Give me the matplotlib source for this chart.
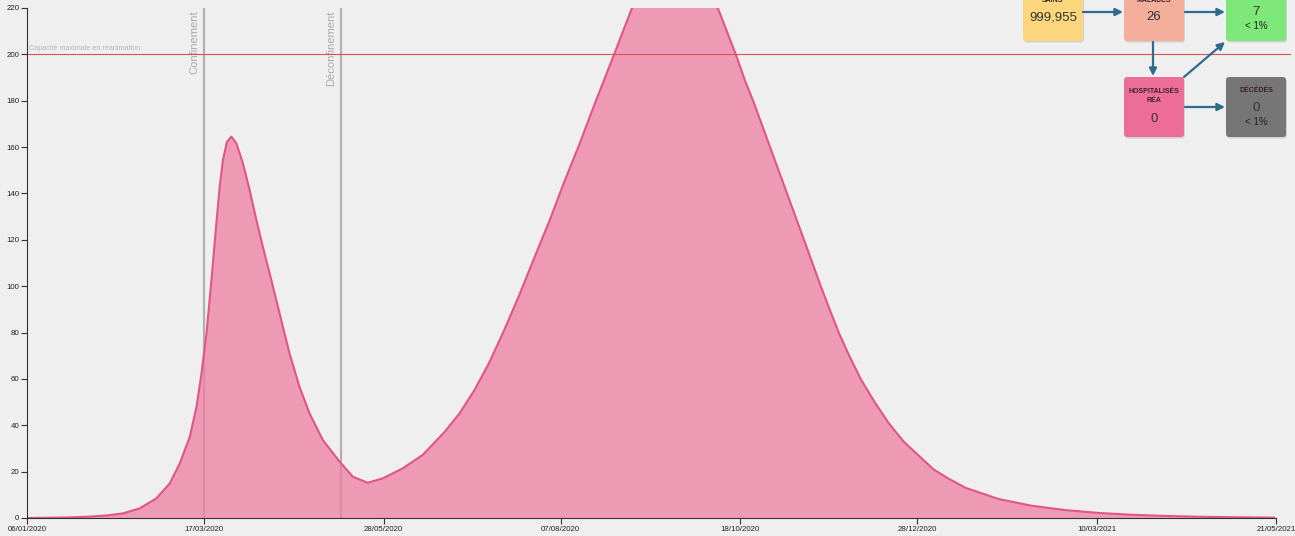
"""Courbe des hospitalisations en réanimation, avec le schéma des compartiments."""
import numpy as np
import matplotlib
matplotlib.use("Agg")
import matplotlib.pyplot as plt
from matplotlib.patches import FancyBboxPatch

plt.rcParams["font.family"] = ["Liberation Sans", "DejaVu Sans"]

################## DATA ##################
start = np.datetime64("2020-01-06")
end = np.datetime64("2021-05-21")

# jours depuis le 06/01/2020 -> patients en réanimation
days = [0.0, 9.2, 17.2, 25.2, 32.0, 38.6, 45.3, 51.9, 57.3, 61.3,
        65.3, 68.0, 70.0, 72.0, 74.0, 75.7, 77.3, 78.6, 80.2, 82.0,
        84.0, 86.6, 89.3, 92.0, 94.6, 98.0, 101.3, 105.3, 109.3, 113.3,
        118.7, 125.4, 130.7, 136.7, 142.7, 150.7, 158.7, 167.4, 173.4, 179.4,
        185.4, 191.4, 197.4, 203.4, 209.5, 215.5, 221.5, 227.5, 231.5, 235.5,
        242.7, 247.5, 253.5, 259.9, 265.5, 271.5, 277.1, 284.3, 287.9, 291.6,
        298.4, 305.2, 312.0, 318.4, 321.6, 325.6, 329.6, 334.4, 340.0, 345.6,
        351.6, 357.6, 363.6, 369.6, 376.5, 389.7, 402.9, 416.5, 429.7, 442.9,
        456.5, 469.8, 485.8, 500.2]
rea = [0, 0.1, 0.25, 0.6, 1.1, 2.0, 4.2, 8.5, 15, 23.6,
       35, 48, 62.4, 79.7, 102.7, 124, 143, 154.4, 162.3, 164.5,
       161.6, 153, 141.5, 128.6, 117, 102.7, 88.3, 71, 56.6, 45.2,
       33.6, 24.3, 17.8, 15.2, 17.1, 21.4, 27.2, 37, 45, 55,
       67, 81, 96, 112, 128, 145, 161, 178, 189, 200,
       220, 232, 243, 248, 244, 234, 220, 200, 189, 179,
       159, 139, 119, 100, 91, 80, 70.5, 60, 50, 41,
       33, 27, 21, 17, 13, 8.2, 5.3, 3.4, 2.2, 1.4,
       0.9, 0.55, 0.3, 0.15]

tick_dates = ["2020-01-06", "2020-03-17", "2020-05-28", "2020-08-07",
              "2020-10-18", "2020-12-28", "2021-03-10", "2021-05-21"]
tick_labels = ["06/01/2020", "17/03/2020", "28/05/2020", "07/08/2020",
               "18/10/2020", "28/12/2020", "10/03/2021", "21/05/2021"]

events = ["Confinement", "Déconfinement"]
event_dates = ["2020-03-17", "2020-05-11"]

capacity = 200
capacity_label = "Capacité maximale en réanimation"

box_titles = ["SAINS", "MALADES", "", "HOSPITALISÉS\nRÉA", "DÉCÉDÉS"]
box_values = ["999,955", "26", "7", "0", "0"]
box_pcts = ["", "", "< 1%", "", "< 1%"]


def day_of(d):
    return (np.datetime64(d) - start) / np.timedelta64(1, "D")


################## PLOT ##################
bg = "#efefef"
fig = plt.figure(figsize=(12.95, 5.36), dpi=100, facecolor=bg)
W, H = 1295, 536
ax = fig.add_axes([27 / W, 18 / H, (1276 - 27) / W, (518 - 8) / H])
ax.set_facecolor(bg)

ax.fill_between(days, rea, color="#ef7ea2", alpha=0.75, lw=0, zorder=3)
ax.plot(days, rea, color="#e0558a", lw=1.5, zorder=4, solid_joinstyle="round")

for name, d in zip(events, event_dates):
    ax.axvline(day_of(d), color="#b0b0b0", lw=1.6, zorder=2)
    ax.text(day_of(d) - 2, 219, name, rotation=90, ha="right", va="top",
            color="#aaaaaa", fontsize=8)

ax.axhline(capacity, color="#d9534f", lw=0.8, xmax=1.011, clip_on=False, zorder=5)
ax.text(1, capacity + 1.2, capacity_label, color="#b5b5b5", fontsize=5.2,
        va="bottom", ha="left")

ax.set_xlim(0, day_of(end))
ax.set_ylim(0, 220)
ax.set_xticks([day_of(t) for t in tick_dates])
ax.set_xticklabels(tick_labels)
ax.set_yticks(np.arange(0, 221, 20))
ax.tick_params(labelsize=5.7, length=4, width=0.8, color="#333333",
               labelcolor="#222222", pad=1.5)
for s in ["top", "right"]:
    ax.spines[s].set_visible(False)
for s in ["left", "bottom"]:
    ax.spines[s].set_color("#333333")
    ax.spines[s].set_linewidth(0.8)
    ax.spines[s].set_zorder(6)

# schéma des compartiments, en pixels
ov = fig.add_axes([0, 0, 1, 1])
ov.set_xlim(0, W)
ov.set_ylim(H, 0)
ov.axis("off")
ov.patch.set_alpha(0)

boxes = [(1023, -19), (1124, -19), (1226, -19), (1124, 77), (1226, 77)]
colors = ["#fcd67c", "#f4ae9c", "#7de879", "#ec6e98", "#767676"]
bw, bh = 60, 60
for (bx, by), c, t, v, p in zip(boxes, colors, box_titles, box_values, box_pcts):
    ov.add_patch(FancyBboxPatch((bx + 1, by + 1.5), bw, bh,
                                boxstyle="round,pad=0,rounding_size=3",
                                fc="#000000", alpha=0.12, lw=0))
    ov.add_patch(FancyBboxPatch((bx, by), bw, bh,
                                boxstyle="round,pad=0,rounding_size=3",
                                fc=c, lw=0))
    cx = bx + bw / 2
    if "\n" in t:
        ov.text(cx, by + 19, t, ha="center", va="center", fontsize=5,
                fontweight="bold", color="#3a2228", linespacing=1.5)
        vy = by + 42
    elif t:
        ov.text(cx, by + 19 if by < 0 else by + 13, t, ha="center",
                va="center", fontsize=5, fontweight="bold", color="#3a2228")
        vy = by + 31 if p else by + 36
    else:
        vy = by + 31
    ov.text(cx, vy, v, ha="center", va="center", fontsize=9.5, color="#333333")
    if p:
        ov.text(cx, by + 45, p, ha="center", va="center", fontsize=7,
                color="#222222")

arrows = [((1083, 12), (1123, 12)), ((1185, 12), (1225, 12)),
          ((1153, 42), (1153, 76)), ((1184, 77), (1225, 42)),
          ((1185, 107), (1225, 107))]
for a, b in arrows:
    ov.annotate("", xy=b, xytext=a,
                arrowprops=dict(arrowstyle="-|>", color="#2e6b8e", lw=1.6,
                                mutation_scale=11, shrinkA=0, shrinkB=0))

plt.savefig("out.png", dpi=100, facecolor=bg)
